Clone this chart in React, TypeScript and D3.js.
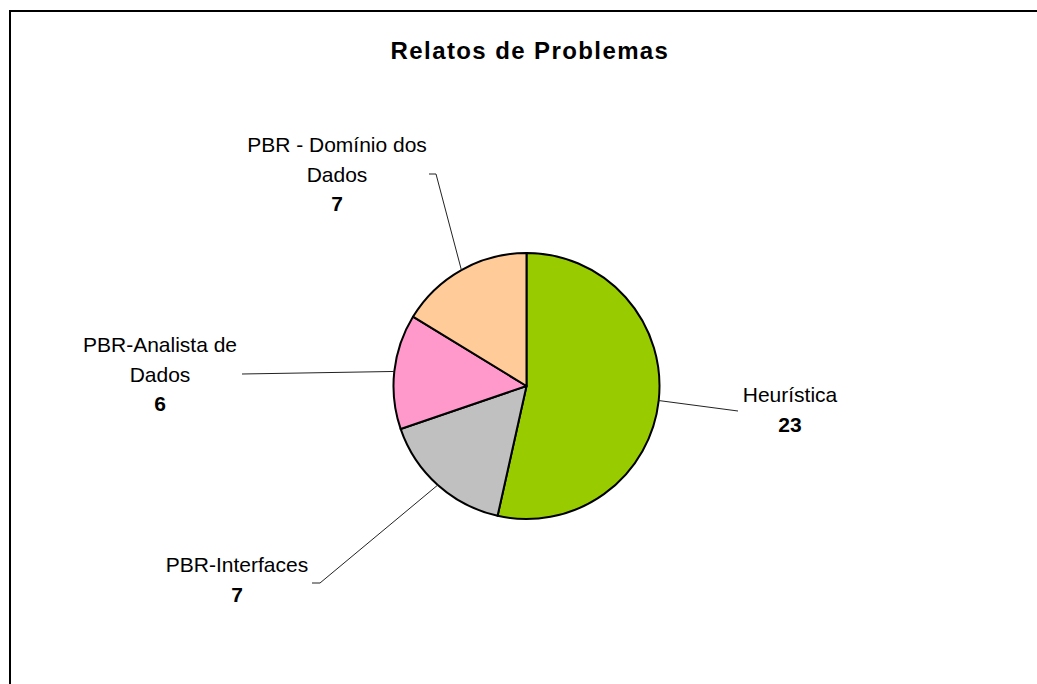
import React from "react";
import { pie, arc, PieArcDatum } from "d3";

// chart data
const title = "Relatos de Problemas";
const categories = ["Heurística", "PBR-Interfaces", "PBR-Analista de Dados", "PBR - Domínio dos Dados"];
const values = [23, 7, 6, 7];
const colors = ["#99CC00", "#C0C0C0", "#FF99CC", "#FFCC99"];
// how each category label wraps on the chart
const labelLines = [["Heurística"], ["PBR-Interfaces"], ["PBR-Analista de", "Dados"], ["PBR - Domínio dos", "Dados"]];

const W = 1037;
const H = 684;
const cx = 526.5;
const cy = 386;
const radius = 133;
const lineH = 29.5;

// label boxes: text centre, first baseline, leader end (+ optional short tail)
const labelLayout = [
  { x: 790, y: 402, end: [738, 411], tail: null },
  { x: 237, y: 572, end: [320, 583], tail: [312, 583] },
  { x: 160, y: 352, end: [242, 374], tail: null },
  { x: 337, y: 152, end: [436, 174], tail: [429, 174] }
];

type Row = { name: string; value: number; color: string; lines: string[] };

export default function App() {
  const rows: Row[] = categories.map((name, i) => ({
    name,
    value: values[i],
    color: colors[i],
    lines: labelLines[i]
  }));

  const pieGen = pie<Row>().value(d => d.value).sort(null);
  const arcs = pieGen(rows);
  const arcGen = arc<PieArcDatum<Row>>().innerRadius(0).outerRadius(radius);

  return (
    <div style={{ position: "fixed", left: 0, top: 0 }}>
      <svg width={W} height={H} style={{ display: "block", background: "#fff" }}
        fontFamily="'Liberation Sans', Arial, sans-serif">
        <path d={`M10,${H} V11 H${W}`} fill="none" stroke="#000" strokeWidth={2} />
        <text x={530} y={59} textAnchor="middle" fontSize={24} fontWeight="bold" letterSpacing={1.4}>
          {title}
        </text>

        <g transform={`translate(${cx},${cy})`}>
          {arcs.map((a, i) => (
            <path key={i} d={arcGen(a) || ""} fill={a.data.color} stroke="#000" strokeWidth={2}
              strokeLinejoin="round" />
          ))}
        </g>

        {arcs.map((a, i) => {
          const mid = (a.startAngle + a.endAngle) / 2;
          const px = cx + radius * Math.sin(mid);
          const py = cy - radius * Math.cos(mid);
          const lay = labelLayout[i];
          let d = `M${px},${py} L${lay.end[0]},${lay.end[1]}`;
          if (lay.tail) d += ` L${lay.tail[0]},${lay.tail[1]}`;
          const n = a.data.lines.length;
          return (
            <g key={"l" + i}>
              <path d={d} fill="none" stroke="#222" strokeWidth={1} />
              <text textAnchor="middle" fontSize={21} fill="#000">
                {a.data.lines.map((t, k) => (
                  <tspan key={k} x={lay.x} y={lay.y + k * lineH}>{t}</tspan>
                ))}
                <tspan x={lay.x} y={lay.y + n * lineH} fontWeight="bold">{a.data.value}</tspan>
              </text>
            </g>
          );
        })}
      </svg>
    </div>
  );
}
